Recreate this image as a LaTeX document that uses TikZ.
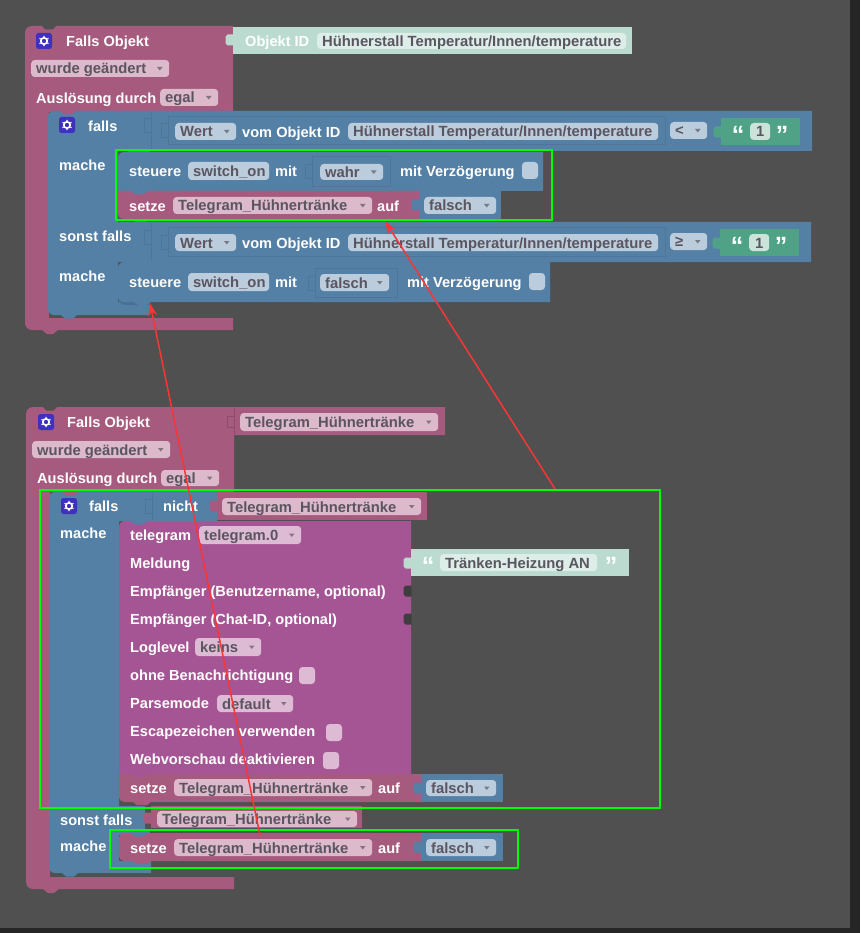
\documentclass[tikz,border=0pt]{standalone}
\usepackage{fontspec}
\setmainfont{Liberation Sans}
\usetikzlibrary{arrows.meta}
\definecolor{bgc}{HTML}{505050}
\definecolor{stripc}{HTML}{262626}
\definecolor{pinkb}{HTML}{A65A7E}
\definecolor{blueb}{HTML}{5580A6}
\definecolor{blueedge}{HTML}{4D7698}
\definecolor{magb}{HTML}{A65594}
\definecolor{tealb}{HTML}{BCDBD0}
\definecolor{greenb}{HTML}{50A286}
\definecolor{pinkf}{HTML}{DDB9CC}
\definecolor{bluef}{HTML}{BBCCDC}
\definecolor{magf}{HTML}{DDBBD4}
\definecolor{tealf}{HTML}{DDEEE8}
\definecolor{greenf}{HTML}{CBE3D9}
\definecolor{fieldtxt}{HTML}{5A5560}
\definecolor{iconb}{HTML}{3F30C0}
\definecolor{boxg}{HTML}{00FF00}
\definecolor{redl}{HTML}{FA3535}
\definecolor{notchc}{HTML}{3E3E3E}
\newcounter{nc}
\tikzset{
  wl/.style={anchor=west,inner sep=0pt,text=white,font=\fontsize{14.6}{16}\selectfont\bfseries,text height=13pt,text depth=2pt},
  fb/.style={anchor=west,inner sep=0pt,rounded corners=3.5pt,text=fieldtxt,font=\fontsize{14.8}{16}\selectfont\bfseries,text height=13pt,text depth=2pt},
  slot/.style={draw=blueedge,line width=1pt,fill=blueb},
  socket/.style={draw=blueedge,line width=1pt},
  greenbox/.style={draw=boxg,line width=2pt,inner sep=0pt,fill=none,anchor=north west},
  redarrow/.style={draw=redl,line width=1.5pt,-{Stealth[length=13pt,width=9pt]}},
  quote/.style={anchor=center,inner sep=0pt,text=white,font=\fontsize{25}{25}\selectfont\bfseries}
}
\newcommand{\lbl}[3]{\stepcounter{nc}\node[wl,name=t\arabic{nc}] at (#1,#2) {#3};}
% colour, x1, x2, y1, y2, text
\newcommand{\fld}[6]{\stepcounter{nc}%
  \pgfmathsetmacro{\fw}{#3-#2}\pgfmathsetmacro{\fh}{#5-#4}\pgfmathsetmacro{\fm}{(#4+#5)/2}%
  \node[fb,fill=#1,minimum width=\fw pt,minimum height=\fh pt,name=t\arabic{nc}] at (#2,\fm) {\makebox[\fw pt][l]{\hspace{5pt}#6}};%
  \pgfmathsetmacro{\ax}{#3-12}\pgfmathsetmacro{\bx}{#3-6.5}\pgfmathsetmacro{\cx}{#3-9.25}%
  \pgfmathsetmacro{\ay}{\fm-1.5}\pgfmathsetmacro{\cy}{\fm+2}%
  \fill[fieldtxt!70!#1] (\ax,\ay) -- (\bx,\ay) -- (\cx,\cy) -- cycle;}
% field without arrow
\newcommand{\nfld}[6]{\stepcounter{nc}%
  \pgfmathsetmacro{\fw}{#3-#2}\pgfmathsetmacro{\fh}{#5-#4}\pgfmathsetmacro{\fm}{(#4+#5)/2}%
  \node[fb,fill=#1,minimum width=\fw pt,minimum height=\fh pt,name=t\arabic{nc}] at (#2,\fm) {\makebox[\fw pt][l]{\hspace{5pt}#6}};}
\newcommand{\chk}[4]{\fill[rounded corners=3.5pt,#1] (#2,#3) rectangle ++(16,#4);}
\newcommand{\gear}[2]{%
  \fill[rounded corners=2.5pt,iconb] (#1,#2) rectangle ++(16,16);
  \draw[white,line width=1.6pt] (#1,#2) ++(8,8) circle[radius=3.2pt];
  \draw[white,line width=1.2pt] (#1,#2) ++(8,2.8) -- ++(0,1.5) (#1,#2) ++(8,11.7) -- ++(0,1.5) (#1,#2) ++(3.5,5.4) -- ++(1.2,.7) (#1,#2) ++(11.3,9.9) -- ++(1.2,.7) (#1,#2) ++(3.5,10.6) -- ++(1.2,-.7) (#1,#2) ++(11.3,6.1) -- ++(1.2,-.7);}
% tab on the left of an output block: colour, x of the edge, y centre
\newcommand{\tab}[3]{\fill[#1] (#2,#3) ++(0.5,-5.5) -- ++(-6,0) -- ++(-2,2) -- ++(0,7) -- ++(2,2) -- ++(6,0) -- cycle;}
% outline of a socket: x of the slot edge, y top
\newcommand{\sock}[2]{\draw[socket] (#1,#2) -- ++(-7,0) -- ++(0,14) -- ++(7,0);}
\begin{document}
\begin{tikzpicture}[x=1pt,y=-1pt]
\path[use as bounding box,fill=bgc] (0,0) rectangle (860,933);
\fill[stripc] (850,0) rectangle (860,933);
\fill[stripc] (0,928) rectangle (860,933);

%================ first program ================
\fill[pinkb] (25,44) [rounded corners=7pt] -- (25,26) [sharp corners] -- (42,26) -- (45,29.5) -- (53,29.5) -- (56,26) -- (233,26) -- (233,112) -- (49,112) -- (49,318) -- (233,318) -- (233,330) -- (58,330) -- (53,334) -- (47,334) -- (42,330) [rounded corners=7pt] -- (25,330) [sharp corners] -- cycle;
\fill[tealb] (233,27) rectangle (632,54);
\tab{tealb}{233}{40}
\gear{36}{33}
\lbl{66}{41}{Falls Objekt}
\lbl{245}{41}{Objekt ID}
\nfld{tealf}{317}{626}{33}{49}{Hühnerstall Temperatur/Innen/temperature}
\fld{pinkf}{31}{169}{60}{77}{wurde geändert}
\lbl{36}{98}{Auslösung durch}
\fld{pinkf}{160}{218}{89}{106}{egal}

% falls block
\fill[pinkb] (58,109) rectangle (78,116);
\fill[blueb] (48,125) [rounded corners=6pt] -- (48,111) [sharp corners] -- (60,111) -- (64,114.5) -- (72,114.5) -- (76,111) -- (812,111) -- (812,151) -- (118,151) -- (118,222) -- (811,222) -- (811,262) -- (118,262) -- (118,302) -- (150,302) -- (150,315) -- (77,315) -- (73,318.5) -- (65,318.5) -- (61,315) [rounded corners=6pt] -- (48,315) [sharp corners] -- cycle;
\gear{59}{117}
\lbl{88}{126}{falls}
\lbl{59}{165}{mache}
\lbl{59}{236}{sonst falls}
\lbl{59}{276}{mache}

\draw[slot] (168,117) rectangle (665,145);
\draw[slot] (168,228) rectangle (665,256);
\draw[socket] (151,112) -- (151,150) (151,223) -- (151,261);
\sock{151}{119}
\sock{151}{230}
\sock{168}{124}
\sock{168}{235}
\fld{bluef}{175}{236}{123}{140}{Wert}
\lbl{242}{132}{vom Objekt ID}
\nfld{bluef}{348}{658}{123}{140}{Hühnerstall Temperatur/Innen/temperature}
\fld{bluef}{670}{707}{122}{139}{<}
\fill[greenb] (721,118) rectangle (800,145);
\tab{greenb}{721}{132}
\node[quote,name=qa] at (738,135) {“};
\nfld{greenf}{750}{770}{123}{140}{\hspace{1pt}1}
\node[quote,name=qb] at (782,135) {”};

\fld{bluef}{175}{236}{234}{251}{Wert}
\lbl{242}{243}{vom Objekt ID}
\nfld{bluef}{348}{658}{234}{251}{Hühnerstall Temperatur/Innen/temperature}
\fld{bluef}{670}{707}{233}{250}{≥}
\fill[greenb] (720,229) rectangle (799,256);
\tab{greenb}{720}{243}
\node[quote,name=qc] at (737,246) {“};
\nfld{greenf}{749}{769}{234}{251}{\hspace{1pt}1}
\node[quote,name=qd] at (781,246) {”};

% steuere + setze
\fill[blueb] (128,150) rectangle (150,157);
\fill[blueb] (118,165) [rounded corners=6pt] -- (118,152) [sharp corners] -- (130,152) -- (135,155.5) -- (143,155.5) -- (148,152) -- (543,152) -- (543,191) -- (118,191) -- cycle;
\draw[blueedge,line width=1pt] (312,157) rectangle (390,187);
\sock{312}{165}
\lbl{129}{171}{steuere}
\nfld{bluef}{188}{269}{162}{180}{switch\_on}
\lbl{275}{171}{mit}
\fld{bluef}{320}{383}{164}{180}{wahr}
\lbl{400}{171}{mit Verzögerung}
\chk{bluef}{522}{162}{17}

\fill[blueb] (128,190) rectangle (150,196);
\fill[pinkb] (118,191) -- (130,191) -- (135,194.5) -- (143,194.5) -- (148,191) -- (419,191) -- (419,219) -- (150,219) -- (146,222) -- (136,222) -- (132,219) [rounded corners=5pt] -- (118,219) [sharp corners] -- cycle;
\fill[blueb] (419,191) rectangle (501,219);
\tab{blueb}{419}{205}
\lbl{129}{206}{setze}
\fld{pinkf}{173}{372}{197}{214}{Telegram\_Hühnertränke}
\lbl{377}{206}{auf}
\fld{bluef}{424}{496}{197}{214}{falsch}

\fill[blueb!88!black] (118,270) [rounded corners=7pt] -- (118,305) -- (132,305) [sharp corners] -- (150,305) -- (150,300) -- cycle;
\fill[blueb] (128,261) rectangle (150,267);
\fill[blueb] (118,275) [rounded corners=6pt] -- (118,262) [sharp corners] -- (130,262) -- (135,265.5) -- (143,265.5) -- (148,262) -- (550,262) -- (550,302) -- (150,302) -- (146,305) -- (138,305) -- (134,302) [rounded corners=6pt] -- (118,302) [sharp corners] -- cycle;
\draw[blueedge,line width=1pt] (315,268) rectangle (397,297);
\sock{315}{276}
\lbl{129}{282}{steuere}
\nfld{bluef}{188}{269}{273}{291}{switch\_on}
\lbl{275}{282}{mit}
\fld{bluef}{320}{389}{274}{291}{falsch}
\lbl{407}{282}{mit Verzögerung}
\chk{bluef}{529}{273}{17}

%================ second program ================
\fill[pinkb] (26,425) [rounded corners=7pt] -- (26,407) [sharp corners] -- (43,407) -- (46,410.5) -- (54,410.5) -- (57,407) -- (445,407) -- (445,435) -- (234,435) -- (234,492) -- (50,492) -- (50,877) -- (234,877) -- (234,889) -- (59,889) -- (54,893) -- (48,893) -- (43,889) [rounded corners=7pt] -- (26,889) [sharp corners] -- cycle;
\gear{38}{414}
\lbl{67}{422}{Falls Objekt}
\draw[pinkb!85!black,line width=.8pt] (234,408) -- (234,434) (234,416) -- (227,416) -- (227,427) -- (234,427);
\fld{pinkf}{240}{438}{413}{431}{Telegram\_Hühnertränke}
\fld{pinkf}{32}{170}{441}{458}{wurde geändert}
\lbl{37}{478}{Auslösung durch}
\fld{pinkf}{161}{219}{470}{486}{egal}

% falls block 2
\fill[pinkb] (60,490) rectangle (80,497);
\fill[blueb] (49,505) [rounded corners=6pt] -- (49,492) [sharp corners] -- (62,492) -- (66,495.5) -- (74,495.5) -- (78,492) -- (217,492) -- (217,521) -- (119,521) -- (119,806) -- (145,806) -- (145,835) -- (119,835) -- (119,861) -- (151,861) -- (151,873) -- (78,873) -- (74,876.5) -- (66,876.5) -- (62,873) [rounded corners=6pt] -- (49,873) [sharp corners] -- cycle;
\draw[socket] (152,493) -- (152,520);
\sock{152}{499}
\gear{61}{498}
\lbl{89}{506}{falls}
\lbl{163}{506}{nicht}
\lbl{60}{533}{mache}
\lbl{60}{820}{sonst falls}
\lbl{60}{846}{mache}

\fill[pinkb] (217,492) rectangle (427,520);
\tab{pinkb}{217}{506}
\fld{pinkf}{222}{421}{498}{515}{Telegram\_Hühnertränke}

% telegram block
\fill[blueb] (128,519) rectangle (150,526);
\fill[magb] (119,534) [rounded corners=6pt] -- (119,521) [sharp corners] -- (130,521) -- (135,524.5) -- (143,524.5) -- (148,521) -- (411,521) -- (411,774) -- (119,774) -- cycle;
\lbl{130}{535}{telegram}
\fld{magf}{199}{301}{526}{544}{telegram.0}
\lbl{130}{563}{Meldung}
\lbl{130}{591}{Empfänger (Benutzername, optional)}
\lbl{130}{619}{Empfänger (Chat-ID, optional)}
\lbl{130}{647}{Loglevel}
\fld{magf}{195}{261}{638}{656}{keins}
\lbl{130}{675}{ohne Benachrichtigung}
\chk{magf}{299}{667}{17}
\lbl{130}{703}{Parsemode}
\fld{magf}{217}{293}{695}{712}{default}
\lbl{130}{731}{Escapezeichen verwenden}
\chk{magf}{326}{724}{17}
\lbl{130}{759}{Webvorschau deaktivieren}
\chk{magf}{323}{752}{17}
\tab{notchc}{411}{591}
\tab{notchc}{411}{619}
\fill[tealb] (411,549) rectangle (629,576);
\tab{tealb}{411}{563}
\node[quote,name=qe] at (428,566) {“};
\nfld{tealf}{440}{597}{554}{571}{Tränken-Heizung AN}
\node[quote,name=qf] at (611,566) {”};

% setze 2
\fill[magb] (128,773) rectangle (150,779);
\fill[pinkb] (119,774) -- (130,774) -- (135,777.5) -- (143,777.5) -- (148,774) -- (421,774) -- (421,802) -- (151,802) -- (147,805) -- (137,805) -- (133,802) [rounded corners=5pt] -- (119,802) [sharp corners] -- cycle;
\fill[blueb] (421,774) rectangle (503,802);
\tab{blueb}{421}{788}
\lbl{130}{788}{setze}
\fld{pinkf}{174}{372}{779}{796}{Telegram\_Hühnertränke}
\lbl{378}{788}{auf}
\fld{bluef}{426}{496}{780}{796}{falsch}

% sonst falls value
\fill[pinkb] (151,806) rectangle (362,828);
\tab{pinkb}{151}{818}
\fld{pinkf}{157}{357}{811}{827}{Telegram\_Hühnertränke}

% setze 3
\fill[blueb] (128,830) rectangle (150,838);
\fill[pinkb] (119,846) [rounded corners=6pt] -- (119,833) [sharp corners] -- (130,833) -- (135,836.5) -- (143,836.5) -- (148,833) -- (421,833) -- (421,861) -- (151,861) -- (147,864) -- (137,864) -- (133,861) [rounded corners=5pt] -- (119,861) [sharp corners] -- cycle;
\fill[blueb] (421,833) rectangle (503,861);
\tab{blueb}{421}{847}
\lbl{130}{848}{setze}
\fld{pinkf}{174}{372}{839}{856}{Telegram\_Hühnertränke}
\lbl{378}{848}{auf}
\fld{bluef}{426}{496}{839}{856}{falsch}

%================ annotations ================
\node[greenbox,minimum width=436pt,minimum height=69.5pt,name=boxA] at (115,149.5) {};
\node[greenbox,minimum width=620pt,minimum height=318pt,name=boxB] at (39,488.7) {};
\node[greenbox,minimum width=408pt,minimum height=37.7pt,name=boxC] at (109,829) {};
\coordinate (tipA) at (385,221);
\coordinate (tipB) at (150,303);
\coordinate (startA) at (555,489);
\coordinate (startB) at (260,835);
\draw[redarrow] (startA) -- (tipA);
\draw[redarrow] (startB) -- (tipB);
\end{tikzpicture}
\end{document}
